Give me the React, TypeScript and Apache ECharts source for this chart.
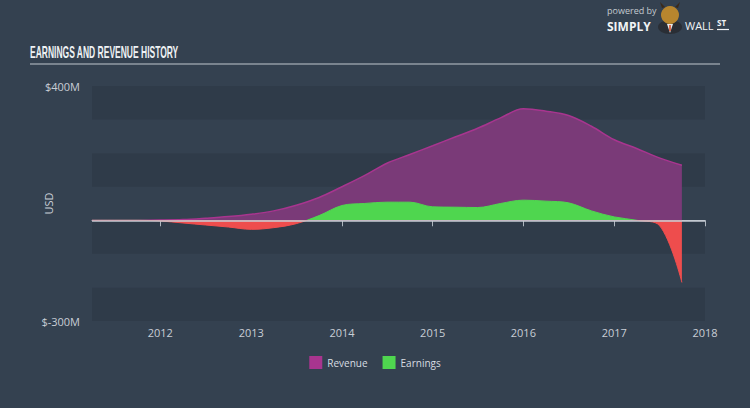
import React, { useEffect, useRef } from "react";
import * as echarts from "echarts";

const dates = [
  "2011-04-01", "2011-07-01", "2011-10-01", "2012-01-01", "2012-04-01", "2012-07-01",
  "2012-10-01", "2013-01-01", "2013-04-01", "2013-07-01", "2013-10-01", "2014-01-01",
  "2014-04-01", "2014-07-01", "2014-10-01", "2015-01-01", "2015-04-01", "2015-07-01",
  "2015-10-01", "2016-01-01", "2016-04-01", "2016-07-01", "2016-10-01", "2017-01-01",
  "2017-04-01", "2017-07-01", "2017-09-30",
];
const revenue = [
  0, 0, 0, 0.5, 2, 6, 11, 18, 28, 45,
  68, 100, 133, 170, 196, 222, 248, 274, 305, 332,
  325, 312, 280, 240, 214, 186, 164,
];
const earnings = [
  0, 0, 0, -2, -8, -14, -20, -27, -22, -10,
  14, 44, 50, 54, 54, 40, 39, 38, 50, 60,
  57, 52, 28, 10, 0, -15, -185,
];
const xMin = "2011-04-01";
const xMax = "2018-01-01";
const yLabels: Record<number, string> = { 400: "$400M", [-300]: "$-300M" };
const YEAR = 365.25 * 24 * 3600 * 1000;

export default function App() {
  const ref = useRef<HTMLDivElement>(null);
  useEffect(() => {
    if (!ref.current) return;
    const chart = echarts.init(ref.current, null, { renderer: "svg" });
    const revData = dates.map((d, i) => [d, revenue[i]]);
    const earnData = dates.map((d, i) => [d, earnings[i]]);
    chart.setOption({
      animation: false,
      backgroundColor: "#344150",
      grid: { left: 92, right: 45, top: 86, bottom: 87 },
      graphic: [
        {
          type: "text",
          left: 30,
          top: 44,
          scaleX: 0.5,
          style: {
            text: "EARNINGS AND REVENUE HISTORY",
            font: 'bold 17px "Liberation Sans"',
            fill: "#eef1f4",
          },
        },
        {
          type: "line",
          shape: { x1: 30, y1: 64, x2: 720, y2: 64 },
          style: { stroke: "#c0c7ce", lineWidth: 1.2 },
        },
        {
          type: "text",
          left: 607,
          top: 6,
          style: { text: "powered by", font: '9px "Open Sans"', fill: "#c3c9cf" },
        },
        {
          type: "text",
          left: 607,
          top: 20,
          style: { text: "SIMPLY", font: 'bold 12px "Open Sans"', fill: "#f2f4f6" },
        },
        {
          type: "ellipse",
          shape: { cx: 670, cy: 27, rx: 12, ry: 7 },
          style: { fill: "#2a2e35" },
        },
        { type: "circle", shape: { cx: 670, cy: 15, r: 9 }, style: { fill: "#b8862e" } },
        {
          type: "polygon",
          shape: { points: [[662, 8], [660, 2], [665, 7]] },
          style: { fill: "#3a2a1a" },
        },
        {
          type: "polygon",
          shape: { points: [[678, 8], [680, 2], [675, 7]] },
          style: { fill: "#3a2a1a" },
        },
        {
          type: "polygon",
          shape: { points: [[667, 24], [673, 24], [670, 33]] },
          style: { fill: "#e8e8e8" },
        },
        {
          type: "line",
          shape: { x1: 670, y1: 25, x2: 670, y2: 31 },
          style: { stroke: "#d8451e", lineWidth: 1.5 },
        },
        {
          type: "text",
          left: 685,
          top: 20,
          style: { text: "WALL", font: '11px "Open Sans"', fill: "#f2f4f6" },
        },
        {
          type: "text",
          left: 717,
          top: 18,
          style: { text: "ST", font: 'bold 8px "Open Sans"', fill: "#f2f4f6" },
        },
        {
          type: "line",
          shape: { x1: 717, y1: 29.5, x2: 729, y2: 29.5 },
          style: { stroke: "#f2f4f6", lineWidth: 1.2 },
        },
      ],
      legend: {
        left: "center",
        top: 351,
        itemWidth: 13,
        itemHeight: 13,
        itemGap: 15,
        icon: "rect",
        textStyle: { color: "#d8dde2", fontSize: 10, fontFamily: "Open Sans" },
        data: [
          { name: "Revenue", itemStyle: { color: "#a8358f" } },
          { name: "Earnings", itemStyle: { color: "#4fd64f" } },
        ],
      },
      visualMap: {
        show: false,
        type: "piecewise",
        seriesIndex: 1,
        dimension: 1,
        pieces: [
          { gte: -1000, lt: 0, color: "#ee4d4d" },
          { gte: 0, lte: 1000, color: "#4fd64f" },
        ],
      },
      xAxis: {
        type: "time",
        min: xMin,
        max: xMax,
        minInterval: YEAR * 0.9,
        maxInterval: YEAR * 1.1,
        splitLine: { show: false },
        axisLine: { lineStyle: { color: "#aeb6bf", width: 1 } },
        axisTick: { length: 6, lineStyle: { color: "#aeb6bf" } },
        axisLabel: {
          color: "#c8ced6",
          fontSize: 11,
          fontFamily: "Open Sans",
          margin: 6,
          showMinLabel: false,
          showMaxLabel: true,
          formatter: "{yyyy}",
        },
      },
      yAxis: {
        type: "value",
        min: -300,
        max: 400,
        interval: 100,
        name: "USD",
        nameLocation: "middle",
        nameGap: 38,
        nameMoveOverlap: false,
        nameTextStyle: { color: "#c8ced6", fontSize: 11, fontFamily: "Open Sans" },
        axisLine: { show: false },
        axisTick: { show: false },
        splitLine: { show: false },
        splitArea: { show: true, areaStyle: { color: ["#2f3b49", "#344150"] } },
        axisLabel: {
          color: "#c8ced6",
          fontSize: 11,
          fontFamily: "Open Sans",
          margin: 12,
          formatter: (v: number) => yLabels[v] ?? "",
        },
      },
      series: [
        {
          name: "Revenue",
          type: "line",
          data: revData,
          smooth: 0.35,
          showSymbol: false,
          symbol: "none",
          z: 2,
          itemStyle: { color: "#a8358f" },
          lineStyle: { color: "#a8358f", width: 1.5 },
          areaStyle: { color: "#7a3a78", opacity: 1 },
        },
        {
          name: "Earnings",
          type: "line",
          data: earnData,
          smooth: 0.35,
          showSymbol: false,
          symbol: "none",
          z: 3,
          itemStyle: { color: "#4fd64f" },
          lineStyle: { width: 1 },
          areaStyle: { opacity: 1 },
        },
        {
          name: "zero",
          type: "line",
          data: [],
          z: 1,
          markLine: {
            silent: true,
            symbol: ["none", "none"],
            label: { show: false },
            lineStyle: { color: "#c8ced6", width: 1.5, type: "solid" },
            data: [{ yAxis: 0 }],
          },
        },
      ],
    });
    return () => chart.dispose();
  }, []);
  return (
    <div
      ref={ref}
      style={{ position: "fixed", left: 0, top: 0, width: 750, height: 408 }}
    />
  );
}
